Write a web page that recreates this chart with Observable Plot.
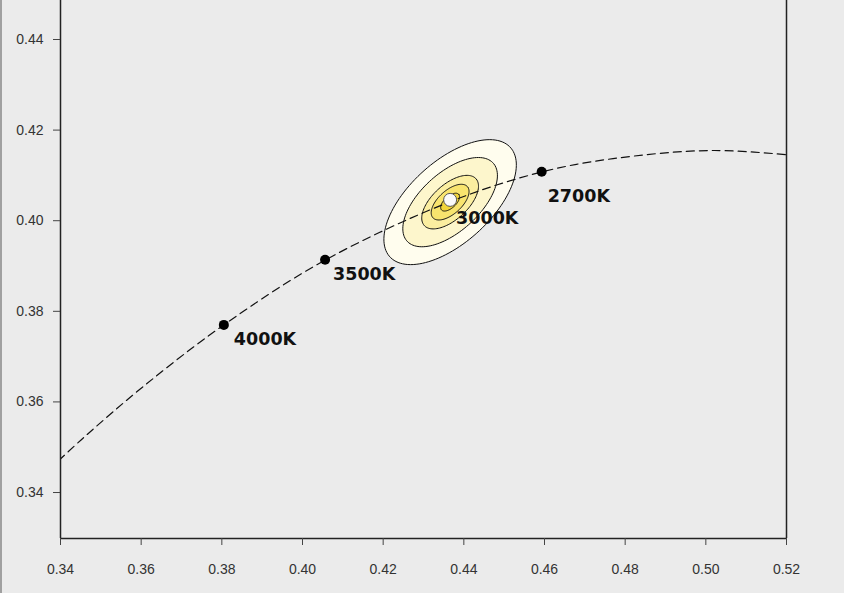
<!DOCTYPE html>
<html><head><meta charset="utf-8">
<script src="https://cdn.jsdelivr.net/npm/d3@7"></script>
<script src="https://cdn.jsdelivr.net/npm/@observablehq/plot@0.6"></script>
<style>
html,body{margin:0;padding:0;background:#ebebeb;}
#wrap{position:relative;width:844px;height:593px;overflow:hidden;}
#edge{position:absolute;left:0;top:0;width:2px;height:593px;background:#a0a0a0;}
</style></head><body><div id="wrap"><div id="edge"></div></div>
<script>
// Axis ticks
const xTicks = [0.34, 0.36, 0.38, 0.40, 0.42, 0.44, 0.46, 0.48, 0.50, 0.52];
const yTicks = [0.34, 0.36, 0.38, 0.40, 0.42, 0.44];

// Planckian locus (CIE 1931 x, y)
const locusX = [0.3325, 0.3451, 0.3608, 0.3805, 0.4056, 0.4369, 0.4595, 0.4770, 0.5018, 0.5267];
const locusY = [0.3411, 0.3516, 0.3636, 0.3770, 0.3913, 0.4043, 0.4108, 0.4137, 0.4155, 0.4140];

// CCT reference points
const cctNames = ["4000K", "3500K", "2700K"];
const cctX = [0.3805, 0.4056, 0.4593];
const cctY = [0.3770, 0.3914, 0.4108];

// Target point (3000K) and MacAdam ellipses around it
const targetName = "3000K";
const targetX = 0.4366;
const targetY = 0.4046;
const ellipseCenter = [0.4366, 0.4041];
const ellipseSteps = [7, 5, 3, 2, 1];
const ellipseA1 = 0.00275;   // semi-major axis of a 1-step ellipse
const ellipseB1 = 0.00135;   // semi-minor axis of a 1-step ellipse
const ellipseAngleDeg = 36.8;

// styles
const stepFills = ["#fffdee", "#fdf6cc", "#fbeea0", "#f8e46e", "#f1d53a"];
const labelDx = [10, 8, 6];
const labelDy = [8, 8, 18];

const locus = locusX.map((x, i) => ({x, y: locusY[i]}));
const cct = cctNames.map((name, i) => ({name, x: cctX[i], y: cctY[i]}));

function ellipsePoints(n) {
  const th = ellipseAngleDeg * Math.PI / 180;
  const a = n * ellipseA1, b = n * ellipseB1;
  return d3.range(0, 360, 3).map(deg => {
    const t = deg * Math.PI / 180;
    return {
      x: ellipseCenter[0] + a * Math.cos(t) * Math.cos(th) - b * Math.sin(t) * Math.sin(th),
      y: ellipseCenter[1] + a * Math.cos(t) * Math.sin(th) + b * Math.sin(t) * Math.cos(th)
    };
  });
}

const yMin = 0.32985, yMax = 0.44861;
const labelFont = {fontFamily: "DejaVu Sans", fontWeight: "bold", fontSize: 17.5, fill: "#111"};
const tickFont = {fontFamily: "'Liberation Sans', Arial, sans-serif", fontSize: 14, fill: "#333"};

const chart = Plot.plot({
  width: 844,
  height: 593,
  marginLeft: 60,
  marginRight: 58,
  marginTop: 0,
  marginBottom: 55,
  style: {background: "#ebebeb", fontFamily: "'Liberation Sans', Arial, sans-serif", fontSize: "14px", color: "#333"},
  x: {domain: [0.34, 0.52]},
  y: {domain: [yMin, yMax]},
  marks: [
    ...ellipseSteps.map((n, i) => Plot.line(ellipsePoints(n), {
      x: "x", y: "y", curve: "linear-closed", fill: stepFills[i], stroke: "#111", strokeWidth: 1
    })),
    Plot.line(locus, {x: "x", y: "y", curve: "catmull-rom", stroke: "#111", strokeWidth: 1.2, strokeDasharray: "8,5", clip: true}),
    Plot.dot(cct, {x: "x", y: "y", r: 5, fill: "#000"}),
    Plot.dot([{x: targetX, y: targetY}], {x: "x", y: "y", r: 6.5, fill: "#fafafa", stroke: "#555", strokeWidth: 1}),
    ...cct.map((d, i) => Plot.text([d], {x: "x", y: "y", text: "name", textAnchor: "start", lineAnchor: "top", dx: labelDx[i], dy: labelDy[i], ...labelFont})),
    Plot.text([{x: targetX, y: targetY, name: targetName}], {x: "x", y: "y", text: "name", textAnchor: "start", lineAnchor: "top", dx: 6, dy: 12, ...labelFont}),
    Plot.ruleX([0.34, 0.52], {stroke: "#222", strokeWidth: 1.5}),
    Plot.ruleY([yMin], {stroke: "#222", strokeWidth: 1.5}),
    Plot.axisX(xTicks, {tickSize: 7, tickPadding: 19, tickFormat: ".2f", label: null, stroke: "#444", ...tickFont}),
    Plot.axisY(yTicks, {tickSize: 7, tickPadding: 10, tickFormat: ".2f", label: null, stroke: "#444", ...tickFont})
  ]
});
document.getElementById("wrap").appendChild(chart);
</script>
</body></html>
